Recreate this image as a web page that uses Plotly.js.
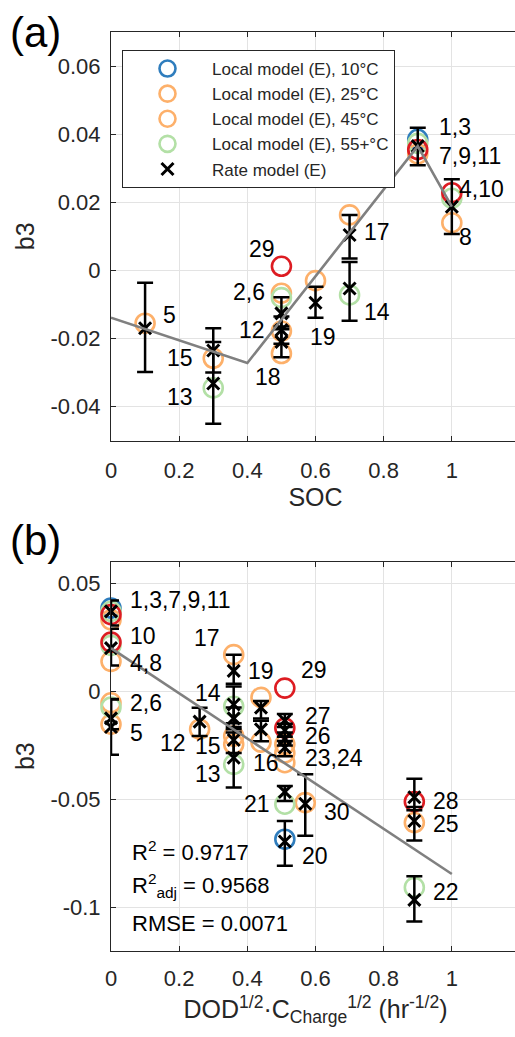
<!DOCTYPE html>
<html>
<head>
<meta charset="utf-8">
<script src="https://cdn.plot.ly/plotly-3.0.1.min.js"></script>
<style>
html,body{margin:0;padding:0;overflow:hidden;background:#fff;}
#chart{width:525px;height:1037px;}
</style>
</head>
<body>
<div id="chart"></div>
<script>
// ---------- Panel (a): b3 vs SOC ----------
const topBlueX = [0.9];
const topBlueY = [0.0385];
const top25X = [0.1, 0.3, 0.5, 0.5, 0.5, 0.6, 0.7];
const top25Y = [-0.0155, -0.0258, -0.0067, -0.0178, -0.0244, -0.0030, 0.0163];
const top45X = [0.9, 1.0];
const top45Y = [0.0342, 0.0140];
const topGreenX = [0.9, 1.0, 0.3, 0.5, 0.7];
const topGreenY = [0.0373, 0.0212, -0.0345, -0.0080, -0.0072];
const topRedX = [0.9, 1.0, 0.5];
const topRedY = [0.0355, 0.0228, 0.0012];
const topRateX = [0.1, 0.3, 0.3, 0.5, 0.5, 0.5, 0.6, 0.7, 0.7, 0.9, 1.0];
const topRateY = [-0.0170, -0.0235, -0.0332, -0.0126, -0.0175, -0.0210, -0.0095, 0.0104, -0.0053, 0.0365, 0.0187];
const topRatePlus = [0.0134, 0.0065, 0.0122, 0.0047, 0.0040, 0.0045, 0.0047, 0.0059, 0.0078, 0.0054, 0.0081];
const topRateMinus = [0.0128, 0.0065, 0.0118, 0.0047, 0.0040, 0.0045, 0.0044, 0.0069, 0.0095, 0.0056, 0.0080];
const topFitX = [0, 0.4, 0.9, 1.0];
const topFitY = [-0.0139, -0.0272, 0.0365, 0.0187];
const topLabText = ['1,3', '7,9,11', '4,10', '8', '17', '29', '2,6', '12', '18', '19', '14', '5', '15', '13'];
const topLabX = [0.956, 0.956, 1.015, 1.015, 0.736, 0.487, 0.457, 0.457, 0.416, 0.578, 0.736, 0.147, 0.246, 0.246];
const topLabY = [0.0421, 0.0336, 0.0238, 0.0099, 0.0112, 0.0064, -0.0063, -0.0175, -0.0312, -0.0197, -0.0121, -0.0131, -0.0257, -0.0371];
const topLabAnchor = ['left', 'left', 'left', 'left', 'left', 'right', 'right', 'right', 'left', 'left', 'left', 'left', 'right', 'right'];

// ---------- Panel (b): b3 vs DOD^1/2 * C^1/2 ----------
const botBlueX = [0, 0.51];
const botBlueY = [0.0385, -0.0684];
const bot25X = [0, 0, 0.26, 0.36, 0.36, 0.36, 0.44, 0.44, 0.51, 0.51, 0.51, 0.57, 0.89];
const bot25Y = [-0.0053, -0.0152, -0.0175, 0.0170, -0.0207, -0.0245, -0.0028, -0.0235, -0.0245, -0.0285, -0.0330, -0.0515, -0.0607];
const bot45X = [0, 0];
const bot45Y = [0.0331, 0.0139];
const botGreenX = [0, 0, 0, 0.36, 0.36, 0.51, 0.89];
const botGreenY = [0.0370, 0.0213, -0.0073, -0.0069, -0.0338, -0.0522, -0.0907];
const botRedX = [0, 0, 0.51, 0.51, 0.89];
const botRedY = [0.0355, 0.0228, 0.0015, -0.0170, -0.0510];
const botRateX = [0, 0, 0, 0, 0.26, 0.36, 0.36, 0.36, 0.36, 0.36, 0.44, 0.44, 0.51, 0.51, 0.51, 0.51, 0.51, 0.51, 0.57, 0.89, 0.89, 0.89];
const botRateY = [0.0370, 0.0200, -0.0125, -0.0165, -0.0140, 0.0095, -0.0061, -0.0125, -0.0225, -0.0307, -0.0075, -0.0176, -0.0135, -0.0180, -0.0220, -0.0260, -0.0465, -0.0695, -0.0520, -0.0490, -0.0600, -0.0965];
const botRatePlus = [0.0050, 0.0090, 0.0087, 0.0130, 0.0064, 0.0075, 0.0084, 0.0050, 0.0060, 0.0117, 0.0030, 0.0040, 0.0030, 0.0030, 0.0030, 0.0030, 0.0027, 0.0095, 0.0136, 0.0086, 0.0065, 0.0110];
const botRateMinus = [0.0065, 0.0080, 0.0050, 0.0128, 0.0067, 0.0060, 0.0087, 0.0050, 0.0060, 0.0138, 0.0050, 0.0055, 0.0030, 0.0030, 0.0030, 0.0040, 0.0042, 0.0112, 0.0148, 0.0060, 0.0090, 0.0100];
const botFitX = [0, 1];
const botFitY = [0.0200, -0.0845];
const botLabText = ['1,3,7,9,11', '10', '4,8', '2,6', '5', '17', '19', '29', '14', '27', '12', '15', '26', '16', '23,24', '13', '21', '30', '20', '28', '25', '22'];
const botLabX = [0.049, 0.049, 0.049, 0.049, 0.049, 0.325, 0.395, 0.551, 0.329, 0.564, 0.227, 0.328, 0.564, 0.410, 0.564, 0.328, 0.472, 0.619, 0.554, 0.940, 0.940, 0.940];
const botLabY = [0.0423, 0.0254, 0.0131, -0.0053, -0.0191, 0.0247, 0.0093, 0.0100, -0.0006, -0.0115, -0.0238, -0.0253, -0.0207, -0.0330, -0.0307, -0.0384, -0.0522, -0.0560, -0.0761, -0.0507, -0.0614, -0.0930];
const botLabAnchor = ['left', 'left', 'left', 'left', 'left', 'right', 'left', 'left', 'right', 'left', 'right', 'right', 'left', 'left', 'left', 'right', 'right', 'left', 'left', 'left', 'left', 'left'];
const statsText = ['R<sup>2</sup> = 0.9717', 'R<sup>2</sup><sub>adj</sub> = 0.9568', 'RMSE = 0.0071'];
const statsY = [-0.0738, -0.0900, -0.1076];

const xTicks = [0, 0.2, 0.4, 0.6, 0.8, 1];
const xTickText = ['0', '0.2', '0.4', '0.6', '0.8', '1'];
const yTopTicks = [-0.04, -0.02, 0, 0.02, 0.04, 0.06];
const yTopTickText = ['-0.04', '-0.02', '0', '0.02', '0.04', '0.06'];
const yBotTicks = [-0.1, -0.05, 0, 0.05];
const yBotTickText = ['-0.1', '-0.05', '0', '0.05'];

// ---------- styles ----------
const FONT = 'Liberation Sans, Arial, Helvetica, sans-serif';
const TXT = '#262626';
const C_BLUE = '#2f7dbd';
const C_ORANGE = '#fdb06a';
const C_GREEN = '#b3e0a6';
const C_RED = '#dd1c22';
const PLOT_W = 409; // plot area width in px (layout width 525 - margins 111 + 5)
const circ = (c) => ({symbol: 'circle-open', size: 19, color: c, line: {color: c, width: 2.6}});

function circleTrace(x, y, c, name, ax, show) {
  return {x: x, y: y, type: 'scatter', mode: 'markers', name: name, marker: circ(c),
          xaxis: ax[0], yaxis: ax[1], showlegend: show, hoverinfo: 'skip', cliponaxis: false};
}
function rateTrace(x, y, p, m, ax, show) {
  return {x: x, y: y, type: 'scatter', mode: 'markers', name: 'Rate model (E)',
          marker: {symbol: 'x-thin-open', size: 12, color: '#000', line: {color: '#000', width: 3}},
          error_y: {type: 'data', symmetric: false, array: p, arrayminus: m, color: '#000', thickness: 2.5, width: 8},
          xaxis: ax[0], yaxis: ax[1], showlegend: show, hoverinfo: 'skip', cliponaxis: false};
}
function fitTrace(x, y, ax) {
  return {x: x, y: y, type: 'scatter', mode: 'lines', line: {color: '#808080', width: 2.6},
          xaxis: ax[0], yaxis: ax[1], showlegend: false, hoverinfo: 'skip'};
}

const A1 = ['x', 'y'], A2 = ['x2', 'y2'];
const data = [
  circleTrace(topBlueX, topBlueY, C_BLUE, 'Local model (E), 10\u00B0C', A1, true),
  circleTrace(top25X, top25Y, C_ORANGE, 'Local model (E), 25\u00B0C', A1, true),
  circleTrace(top45X, top45Y, C_ORANGE, 'Local model (E), 45\u00B0C', A1, true),
  circleTrace(topGreenX, topGreenY, C_GREEN, 'Local model (E), 55+\u00B0C', A1, true),
  circleTrace(topRedX, topRedY, C_RED, 'Local model (E)', A1, false),
  rateTrace(topRateX, topRateY, topRatePlus, topRateMinus, A1, true),
  fitTrace(topFitX, topFitY, A1),
  circleTrace(botBlueX, botBlueY, C_BLUE, '10\u00B0C', A2, false),
  circleTrace(bot25X, bot25Y, C_ORANGE, '25\u00B0C', A2, false),
  circleTrace(bot45X, bot45Y, C_ORANGE, '45\u00B0C', A2, false),
  circleTrace(botGreenX, botGreenY, C_GREEN, '55+\u00B0C', A2, false),
  circleTrace(botRedX, botRedY, C_RED, 'red', A2, false),
  rateTrace(botRateX, botRateY, botRatePlus, botRateMinus, A2, false),
  fitTrace(botFitX, botFitY, A2)
];

const annotations = [];
function addLabels(texts, xs, ys, anchors, xr, yr) {
  texts.forEach((t, i) => annotations.push({text: t, x: xs[i], y: ys[i], xref: xr, yref: yr,
    xanchor: anchors[i], yanchor: 'middle', showarrow: false, font: {family: FONT, size: 23, color: '#000'}}));
}
addLabels(topLabText, topLabX, topLabY, topLabAnchor, 'x', 'y');
addLabels(botLabText, botLabX, botLabY, botLabAnchor, 'x2', 'y2');
statsText.forEach((t, i) => annotations.push({text: t, x: 0.056, y: statsY[i], xref: 'x2', yref: 'y2',
  xanchor: 'left', yanchor: 'middle', showarrow: false, font: {family: FONT, size: 22, color: '#000'}}));
annotations.push({text: '(a)', x: (8 - 111) / PLOT_W, y: 1 - 33 / 1037, xref: 'paper', yref: 'paper', xanchor: 'left', yanchor: 'middle',
  showarrow: false, font: {family: FONT, size: 42, color: '#000'}});
annotations.push({text: '(b)', x: (8 - 111) / PLOT_W, y: 1 - 540 / 1037, xref: 'paper', yref: 'paper', xanchor: 'left', yanchor: 'middle',
  showarrow: false, font: {family: FONT, size: 42, color: '#000'}});

const axBase = {
  showline: true, linecolor: TXT, linewidth: 1, mirror: 'ticks', ticks: 'inside', ticklen: 5, tickcolor: TXT,
  showgrid: true, gridcolor: '#e3e3e3', gridwidth: 1, zeroline: false,
  tickfont: {family: FONT, size: 22, color: TXT}, tickmode: 'array'
};

const layout = {
  width: 525, height: 1037,
  margin: {l: 111, r: 5, t: 0, b: 0},
  paper_bgcolor: '#fff', plot_bgcolor: '#fff',
  font: {family: FONT, color: TXT},
  showlegend: true,
  legend: {x: (122 - 111) / PLOT_W, y: 1 - 50 / 1037, xanchor: 'left', yanchor: 'top',
           bgcolor: '#fff', bordercolor: TXT, borderwidth: 1,
           font: {family: FONT, size: 17, color: TXT}, itemwidth: 79, tracegroupgap: 0},
  xaxis: Object.assign({}, axBase, {domain: [0, 1], range: [0, 1.2], tickvals: xTicks, ticktext: xTickText,
    anchor: 'y', ticklabelstandoff: 10, title: {text: 'SOC', font: {family: FONT, size: 25, color: TXT}, standoff: 6}}),
  yaxis: Object.assign({}, axBase, {domain: [1 - 440.7 / 1037, 1 - 32 / 1037], range: [-0.05, 0.07], tickvals: yTopTicks,
    ticktext: yTopTickText, anchor: 'x', ticklabelstandoff: 5, title: {text: 'b3', font: {family: FONT, size: 25, color: TXT}, standoff: 8}}),
  xaxis2: Object.assign({}, axBase, {domain: [0, 1], range: [0, 1.2], tickvals: xTicks, ticktext: xTickText,
    anchor: 'y2', ticklabelstandoff: 8,
    title: {text: 'DOD<sup>1/2</sup>\u00B7C<sub>Charge</sub><sup>1/2</sup> (hr<sup>-1/2</sup>)', font: {family: FONT, size: 25, color: TXT}, standoff: 10}}),
  yaxis2: Object.assign({}, axBase, {domain: [1 - 950.7 / 1037, 1 - 561.7 / 1037], range: [-0.12, 0.06], tickvals: yBotTicks,
    ticktext: yBotTickText, anchor: 'x2', ticklabelstandoff: 5, title: {text: 'b3', font: {family: FONT, size: 25, color: TXT}, standoff: 8}}),
  annotations: annotations
};

Plotly.newPlot('chart', data, layout, {displayModeBar: false, responsive: false, staticPlot: true});
</script>
</body>
</html>
